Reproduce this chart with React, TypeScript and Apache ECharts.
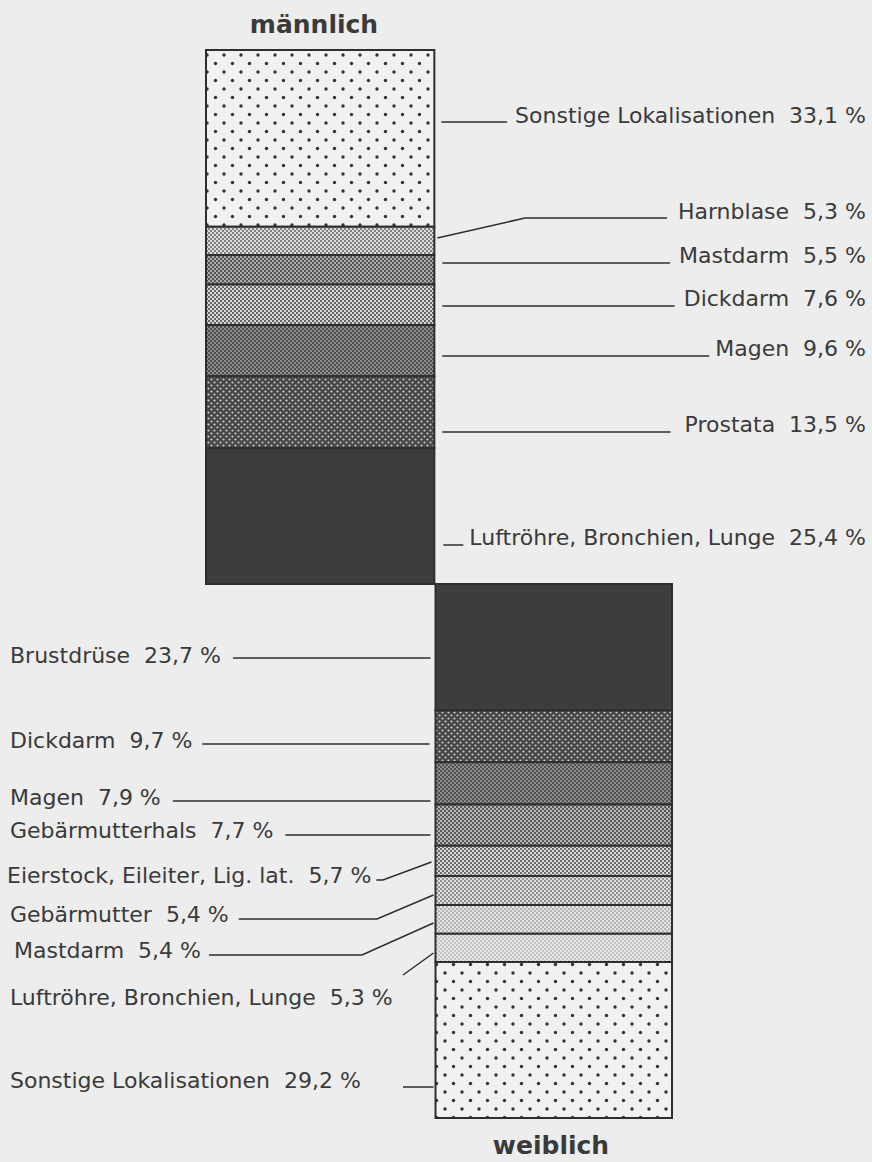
import React, { useEffect, useRef } from 'react';
import * as echarts from 'echarts';

// ---------------- data ----------------
const groupLabels = ['männlich', 'weiblich'];

const maleCategories = [
  'Sonstige Lokalisationen',
  'Harnblase',
  'Mastdarm',
  'Dickdarm',
  'Magen',
  'Prostata',
  'Luftröhre, Bronchien, Lunge',
];
const maleValues = [33.1, 5.3, 5.5, 7.6, 9.6, 13.5, 25.4];

const femaleCategories = [
  'Brustdrüse',
  'Dickdarm',
  'Magen',
  'Gebärmutterhals',
  'Eierstock, Eileiter, Lig. lat.',
  'Gebärmutter',
  'Mastdarm',
  'Luftröhre, Bronchien, Lunge',
  'Sonstige Lokalisationen',
];
const femaleValues = [23.7, 9.7, 7.9, 7.7, 5.7, 5.4, 5.4, 5.3, 29.2];

// ---------------- layout & style ----------------
const W = 872;
const H = 1162;
const GRID = { left: 206, right: 200, top: 50, bottom: 44 };
const COLUMN_SPAN = [
  [0, 0.98],
  [0.985, 2],
];
const FONT = 'DejaVu Sans';
const FS = 22;
const BASE_SHIFT = 7.6;
const TEXT_COLOR = '#3a3a3a';
const LINE_COLOR = '#2e2e2e';
const BORDER = '#2e2e2e';
const BG = '#ededed';
const MALE_TEXT_RIGHT = 866;
const TITLE_POS = [
  [314, 24],
  [551, 1145],
];

type Pt = [string, number, number];
const maleLeaders: { base: number; pts: Pt[] }[] = [
  { base: 123, pts: [['bar', 7, 122], ['text', -8, 122]] },
  { base: 219, pts: [['bar', 3, 238], ['abs', 525, 218], ['text', -11, 218]] },
  { base: 263, pts: [['bar', 8, 263], ['text', -9, 263]] },
  { base: 306, pts: [['bar', 8, 306], ['text', -9, 306]] },
  { base: 356, pts: [['bar', 8, 356], ['text', -6, 356]] },
  { base: 432, pts: [['bar', 8, 432], ['text', -14, 432]] },
  { base: 545, pts: [['bar', 9, 545], ['text', -6, 545]] },
];
const femaleLeaders: { x: number; base: number; pts: Pt[] }[] = [
  { x: 10, base: 663, pts: [['text', 12, 658], ['bar', -5, 658]] },
  { x: 10, base: 748, pts: [['text', 10, 744], ['bar', -6, 744]] },
  { x: 10, base: 805, pts: [['text', 12, 801], ['bar', -5, 801]] },
  { x: 10, base: 838, pts: [['text', 12, 835], ['bar', -5, 835]] },
  { x: 7, base: 883, pts: [['text', 5, 880], ['abs', 383, 880], ['bar', -4, 862]] },
  { x: 10, base: 922, pts: [['text', 10, 919], ['abs', 377, 919], ['bar', -2, 895]] },
  { x: 14, base: 958, pts: [['text', 8, 955], ['abs', 362, 955], ['bar', -2, 923]] },
  { x: 10, base: 1005, pts: [['abs', 403, 975], ['bar', -2, 953]] },
  { x: 10, base: 1088, pts: [['abs', 403, 1087], ['bar', -2, 1087]] },
];

type Tile =
  | { kind: 'sparse'; bg: string; fg: string }
  | { kind: 'solid'; color: string }
  | { kind: 'dots'; bg: string; fg: string; r: number; t: number };

const SPARSE: Tile = { kind: 'sparse', bg: '#f1f1f1', fg: '#333333' };
const SOLID: Tile = { kind: 'solid', color: '#3d3d3d' };
const RINGS: Tile = { kind: 'dots', bg: '#474747', fg: '#c8c8c8', r: 1.1, t: 6 };

const maleFills: Tile[] = [
  SPARSE,
  { kind: 'dots', bg: '#dcdcdc', fg: '#5c5c5c', r: 0.95, t: 4 },
  { kind: 'dots', bg: '#555555', fg: '#d0d0d0', r: 0.95, t: 4 },
  { kind: 'dots', bg: '#d8d8d8', fg: '#555555', r: 1.05, t: 4 },
  { kind: 'dots', bg: '#4e4e4e', fg: '#cccccc', r: 0.85, t: 4 },
  RINGS,
  SOLID,
];
const femaleFills: Tile[] = [
  SOLID,
  RINGS,
  { kind: 'dots', bg: '#525252', fg: '#c8c8c8', r: 0.85, t: 4 },
  { kind: 'dots', bg: '#5a5a5a', fg: '#d4d4d4', r: 1.0, t: 4 },
  { kind: 'dots', bg: '#dadada', fg: '#5a5a5a', r: 1.05, t: 4 },
  { kind: 'dots', bg: '#e0e0e0', fg: '#6a6a6a', r: 0.9, t: 4 },
  { kind: 'dots', bg: '#e4e4e4', fg: '#7a7a7a', r: 0.8, t: 4 },
  { kind: 'dots', bg: '#e6e6e6', fg: '#8a8a8a', r: 0.7, t: 4 },
  SPARSE,
];

// ---------------- helpers ----------------
function makeFill(spec: Tile): any {
  if (spec.kind === 'solid') return spec.color;
  const c = document.createElement('canvas');
  const ctx = c.getContext('2d') as CanvasRenderingContext2D;
  if (spec.kind === 'sparse') {
    c.width = 17;
    c.height = 17;
    ctx.fillStyle = spec.bg;
    ctx.fillRect(0, 0, 17, 17);
    ctx.fillStyle = spec.fg;
    [[3, 4], [11.5, 12.5]].forEach(([px, py]) => {
      ctx.beginPath();
      ctx.arc(px, py, 1.7, 0, Math.PI * 2);
      ctx.fill();
    });
  } else {
    const t = spec.t;
    c.width = t;
    c.height = t;
    ctx.fillStyle = spec.bg;
    ctx.fillRect(0, 0, t, t);
    ctx.fillStyle = spec.fg;
    [[t / 4, t / 4], [(3 * t) / 4, (3 * t) / 4]].forEach(([px, py]) => {
      ctx.beginPath();
      ctx.arc(px, py, spec.r, 0, Math.PI * 2);
      ctx.fill();
    });
  }
  return { image: c, repeat: 'repeat', imageWidth: c.width, imageHeight: c.height };
}

let measureCtx: CanvasRenderingContext2D | null = null;
function measure(text: string): number {
  if (!measureCtx) measureCtx = document.createElement('canvas').getContext('2d');
  (measureCtx as CanvasRenderingContext2D).font = `${FS}px "${FONT}"`;
  return (measureCtx as CanvasRenderingContext2D).measureText(text).width;
}

const fmt = (v: number) => `${v.toFixed(1).replace('.', ',')} %`;

function stackRows(col: number, values: number[], base: number) {
  let acc = base;
  return values.map((v) => {
    const row = [col, acc, acc + v, v];
    acc += v;
    return row;
  });
}

function makeRender(side: 'male' | 'female', cats: string[], fills: any[], leaders: any[]) {
  return (params: any, api: any) => {
    const i = params.dataIndex;
    const col = api.value(0);
    const span = COLUMN_SPAN[col];
    const p0 = api.coord([span[0], api.value(1)]);
    const p1 = api.coord([span[1], api.value(2)]);
    const text = `${cats[i]}  ${fmt(api.value(3))}`;
    const tw = measure(text);
    const L = leaders[i];
    let textX: number;
    let textEdge: number;
    let barEdge: number;
    let align: string;
    if (side === 'male') {
      barEdge = p1[0];
      textX = MALE_TEXT_RIGHT;
      textEdge = textX - tw;
      align = 'right';
    } else {
      barEdge = p0[0];
      textX = L.x;
      textEdge = textX + tw;
      align = 'left';
    }
    const pts = L.pts.map(([k, d, py]: Pt) => [
      k === 'bar' ? barEdge + d : k === 'text' ? textEdge + d : d,
      py,
    ]);
    return {
      type: 'group',
      children: [
        {
          type: 'rect',
          shape: { x: p0[0], y: p0[1], width: p1[0] - p0[0], height: p1[1] - p0[1] },
          style: { fill: fills[i], stroke: BORDER, lineWidth: 2 },
          z2: 1,
        },
        {
          type: 'polyline',
          shape: { points: pts },
          style: { stroke: LINE_COLOR, lineWidth: 1.5, fill: null },
          z2: 2,
        },
        {
          type: 'text',
          x: textX,
          y: L.base - BASE_SHIFT,
          style: {
            text,
            fill: TEXT_COLOR,
            fontSize: FS,
            fontFamily: FONT,
            align,
            verticalAlign: 'middle',
          },
          z2: 3,
        },
      ],
    };
  };
}

export default function App() {
  const ref = useRef<HTMLDivElement>(null);

  useEffect(() => {
    if (!ref.current) return;
    const chart = echarts.init(ref.current, null, { renderer: 'svg' });
    const maleTotal = maleValues.reduce((a, b) => a + b, 0);
    const femaleTotal = femaleValues.reduce((a, b) => a + b, 0);
    const maleRows = stackRows(0, maleValues, 0);
    const femaleRows = stackRows(1, femaleValues, maleTotal);
    const maleF = maleFills.map(makeFill);
    const femaleF = femaleFills.map(makeFill);

    chart.setOption({
      animation: false,
      backgroundColor: BG,
      grid: { ...GRID },
      xAxis: { type: 'value', min: 0, max: 2, show: false },
      yAxis: {
        type: 'value',
        min: 0,
        max: Math.round((maleTotal + femaleTotal) * 10) / 10,
        inverse: true,
        show: false,
      },
      graphic: groupLabels.map((g, k) => ({
        type: 'text',
        x: TITLE_POS[k][0],
        y: TITLE_POS[k][1],
        style: {
          text: g,
          fill: TEXT_COLOR,
          fontSize: 25,
          fontWeight: 'bold',
          fontFamily: FONT,
          align: 'center',
          verticalAlign: 'middle',
        },
      })),
      series: [
        {
          name: groupLabels[0],
          type: 'custom',
          coordinateSystem: 'cartesian2d',
          clip: false,
          silent: true,
          encode: { x: 0, y: [1, 2] },
          renderItem: makeRender('male', maleCategories, maleF, maleLeaders),
          data: maleRows,
        },
        {
          name: groupLabels[1],
          type: 'custom',
          coordinateSystem: 'cartesian2d',
          clip: false,
          silent: true,
          encode: { x: 0, y: [1, 2] },
          renderItem: makeRender('female', femaleCategories, femaleF, femaleLeaders),
          data: femaleRows,
        },
      ],
    });
    return () => chart.dispose();
  }, []);

  return (
    <div
      ref={ref}
      style={{ position: 'fixed', left: 0, top: 0, width: W, height: H }}
    />
  );
}
